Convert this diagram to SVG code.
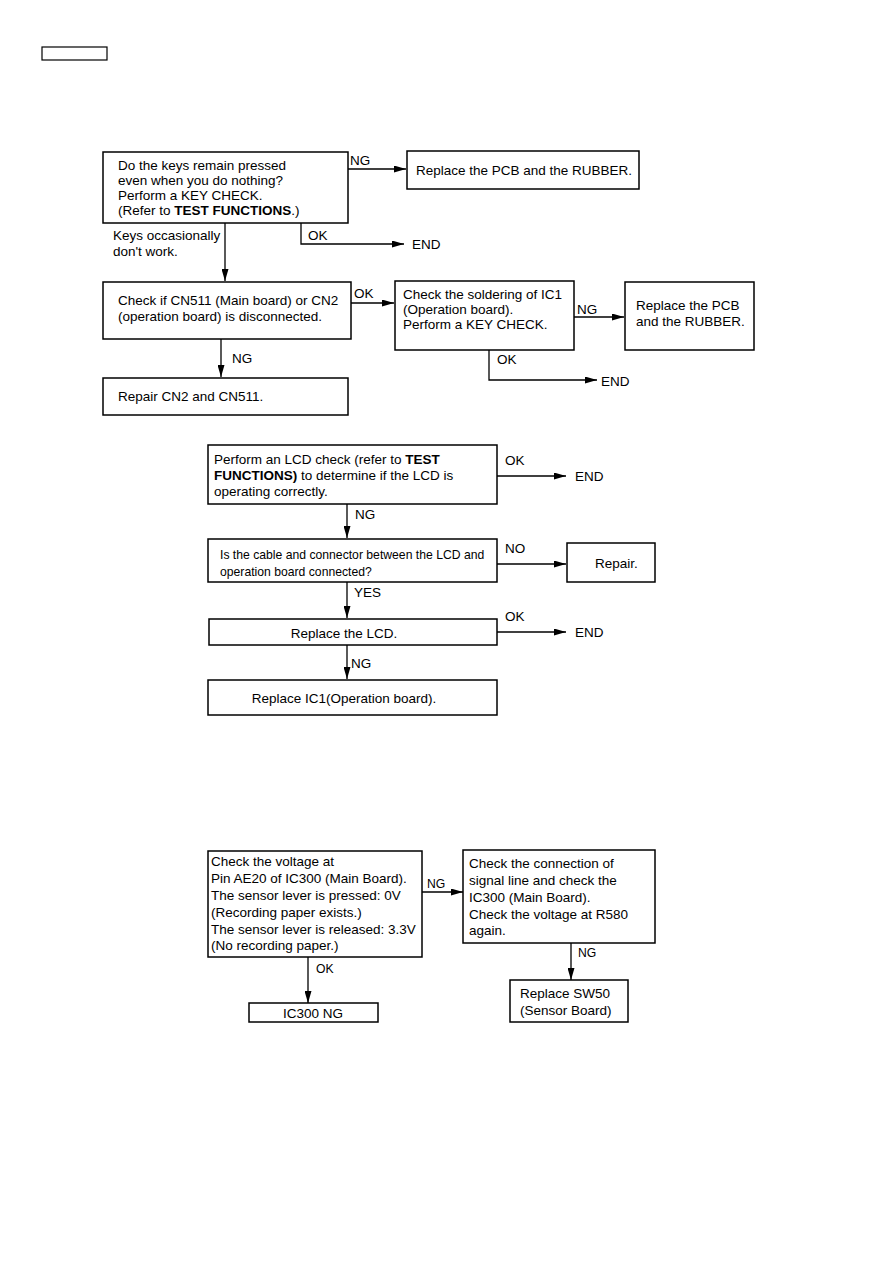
<svg xmlns="http://www.w3.org/2000/svg" width="893" height="1263" viewBox="0 0 893 1263">
<defs>
<style>
.box{fill:#fff;stroke:#000;stroke-width:1.5}
.ln{fill:none;stroke:#000;stroke-width:1.3}
text{font-family:"Liberation Sans",Arial,sans-serif;font-size:13.5px;fill:#000}
.s{font-size:12.2px}
.b{font-weight:bold}
</style>
<marker id="ah" viewBox="0 0 12 7" refX="12" refY="3.5" markerWidth="12" markerHeight="7" markerUnits="userSpaceOnUse" orient="auto">
<path d="M0,0 L12,3.5 L0,7 Z" fill="#000"/>
</marker>
</defs>
<rect width="893" height="1263" fill="#fff"/>
<rect id="header" x="42" y="47" width="65" height="13" fill="none" stroke="#000" stroke-width="1.2"/>

<g id="connectors">
<path class="ln" d="M348,169 H406" marker-end="url(#ah)"/>
<path class="ln" d="M301,223 V244 H404" marker-end="url(#ah)"/>
<path class="ln" d="M225,223 V281" marker-end="url(#ah)"/>
<path class="ln" d="M351,303 H394" marker-end="url(#ah)"/>
<path class="ln" d="M221,339 V377" marker-end="url(#ah)"/>
<path class="ln" d="M574,317 H624" marker-end="url(#ah)"/>
<path class="ln" d="M489,350 V380 H597" marker-end="url(#ah)"/>

<path class="ln" d="M497,476 H566" marker-end="url(#ah)"/>
<path class="ln" d="M347,504 V538" marker-end="url(#ah)"/>
<path class="ln" d="M497,564 H566" marker-end="url(#ah)"/>
<path class="ln" d="M347,582 V618" marker-end="url(#ah)"/>
<path class="ln" d="M497,632 H566" marker-end="url(#ah)"/>
<path class="ln" d="M347,645 V679" marker-end="url(#ah)"/>

<path class="ln" d="M422,892 H463" marker-end="url(#ah)"/>
<path class="ln" d="M571,943 V980" marker-end="url(#ah)"/>
<path class="ln" d="M308,957 V1003" marker-end="url(#ah)"/>

<text x="350" y="165">NG</text>
<text x="308" y="240">OK</text>
<text x="412" y="249">END</text>
<text x="113" y="240">Keys occasionally</text>
<text x="113" y="256">don't work.</text>
<text x="354" y="298">OK</text>
<text x="232" y="363">NG</text>
<text x="577" y="314">NG</text>
<text x="497" y="364">OK</text>
<text x="601" y="386">END</text>

<text x="505" y="465">OK</text>
<text x="575" y="481">END</text>
<text x="355" y="519">NG</text>
<text x="505" y="553">NO</text>
<text x="354" y="597">YES</text>
<text x="505" y="621">OK</text>
<text x="575" y="637">END</text>
<text x="351" y="668">NG</text>

<text class="s" x="427" y="888">NG</text>
<text class="s" x="578" y="957">NG</text>
<text class="s" x="316" y="973">OK</text>
</g>

<g id="n1"><rect class="box" x="103" y="152" width="245" height="71"/>
<text x="118" y="170">Do the keys remain pressed</text>
<text x="118" y="185">even when you do nothing?</text>
<text x="118" y="200">Perform a KEY CHECK.</text>
<text x="118" y="215">(Refer to <tspan class="b">TEST FUNCTIONS</tspan>.)</text></g>

<g id="n2"><rect class="box" x="407" y="151" width="232" height="38"/>
<text x="416" y="175">Replace the PCB and the RUBBER.</text></g>

<g id="n3"><rect class="box" x="103" y="282" width="248" height="57"/>
<text x="118" y="305">Check if CN511 (Main board) or CN2</text>
<text x="118" y="321">(operation board) is disconnected.</text></g>

<g id="n4"><rect class="box" x="103" y="378" width="245" height="37"/>
<text x="118" y="401">Repair CN2 and CN511.</text></g>

<g id="n5"><rect class="box" x="395" y="281" width="179" height="69"/>
<text x="403" y="299">Check the soldering of IC1</text>
<text x="403" y="314">(Operation board).</text>
<text x="403" y="329">Perform a KEY CHECK.</text></g>

<g id="n6"><rect class="box" x="625" y="282" width="129" height="68"/>
<text x="636" y="310">Replace the PCB</text>
<text x="636" y="326">and the RUBBER.</text></g>

<g id="n7"><rect class="box" x="208" y="445" width="289" height="59"/>
<text x="214" y="464">Perform an LCD check (refer to <tspan class="b">TEST</tspan></text>
<text x="214" y="480"><tspan class="b">FUNCTIONS)</tspan> to determine if the LCD is</text>
<text x="214" y="496">operating correctly.</text></g>

<g id="n8"><rect class="box" x="208" y="539" width="289" height="43"/>
<text class="s" x="220" y="559">Is the cable and connector between the LCD and</text>
<text class="s" x="220" y="576">operation board connected?</text></g>

<g id="n9"><rect class="box" x="567" y="543" width="88" height="39"/>
<text x="595" y="568">Repair.</text></g>

<g id="n10"><rect class="box" x="209" y="619" width="288" height="26"/>
<text x="344" y="638" text-anchor="middle">Replace the LCD.</text></g>

<g id="n11"><rect class="box" x="208" y="680" width="289" height="35"/>
<text x="344" y="703" text-anchor="middle">Replace IC1(Operation board).</text></g>

<g id="n12"><rect class="box" x="208" y="851" width="214" height="106"/>
<text x="211" y="866">Check the voltage at</text>
<text x="211" y="883">Pin AE20 of IC300 (Main Board).</text>
<text x="211" y="900">The sensor lever is pressed: 0V</text>
<text x="211" y="917">(Recording paper exists.)</text>
<text x="211" y="934">The sensor lever is released: 3.3V</text>
<text x="211" y="950">(No recording paper.)</text></g>

<g id="n13"><rect class="box" x="463" y="850" width="192" height="93"/>
<text x="469" y="868">Check the connection of</text>
<text x="469" y="885">signal line and check the</text>
<text x="469" y="902">IC300 (Main Board).</text>
<text x="469" y="919">Check the voltage at R580</text>
<text x="469" y="935">again.</text></g>

<g id="n14"><rect class="box" x="510" y="980" width="118" height="42"/>
<text x="520" y="998">Replace SW50</text>
<text x="520" y="1015">(Sensor Board)</text></g>

<g id="n15"><rect class="box" x="249" y="1003" width="129" height="19"/>
<text x="313" y="1018" text-anchor="middle">IC300 NG</text></g>
</svg>
